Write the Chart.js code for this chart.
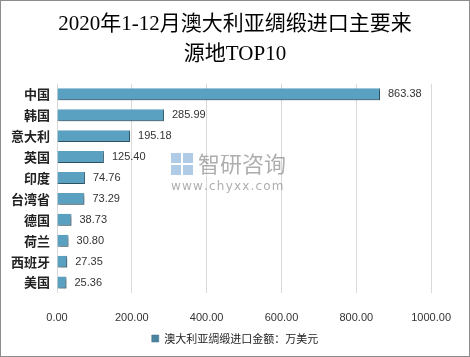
<!DOCTYPE html>
<html><head><meta charset="utf-8">
<script src="https://cdn.jsdelivr.net/npm/chart.js@4/dist/chart.umd.min.js"></script>
<style>
html,body{margin:0;padding:0;background:#fff;}
#wrap{position:relative;width:468px;height:355px;border:1px solid #8c8c8c;}
</style></head><body>
<div id="wrap"><canvas id="c" width="468" height="355"></canvas></div>
<script>
const categories = ["中国","韩国","意大利","英国","印度","台湾省","德国","荷兰","西班牙","美国"];
const values = [863.38,285.99,195.18,125.40,74.76,73.29,38.73,30.80,27.35,25.36];
const seriesName = "澳大利亚绸缎进口金额：万美元";
const titleLines = ["2020年1-12月澳大利亚绸缎进口主要来","源地TOP10"];

const labelPlugin = {
  id:'labels',
  afterDatasetsDraw(chart){
    const ctx = chart.ctx;
    const meta = chart.getDatasetMeta(0);
    ctx.save();
    ctx.font = '11px "Liberation Sans","Noto Sans CJK SC",sans-serif';
    ctx.fillStyle = '#333';
    ctx.textBaseline = 'middle';
    ctx.textAlign = 'left';
    meta.data.forEach((el,i)=>{
      ctx.fillText(values[i].toFixed(2), el.x + 8, el.y);
    });
    ctx.restore();
  }
};
const shadowPlugin = {
  id:'shadow',
  beforeDatasetDraw(chart){
    const ctx=chart.ctx; ctx.save();
    ctx.shadowColor='rgba(0,0,0,0.35)'; ctx.shadowOffsetX=1.5; ctx.shadowOffsetY=2; ctx.shadowBlur=3;
  },
  afterDatasetDraw(chart){ chart.ctx.restore(); }
};
const watermark = {
  id:'wm',
  beforeDatasetsDraw(chart){
    const ctx=chart.ctx; ctx.save();
    ctx.fillStyle='rgba(110,160,210,0.55)';
    ctx.fillRect(170,152,10,10); ctx.fillRect(182,152,10,10); ctx.fillRect(170,164,10,10);ctx.fillRect(182,164,10,10);
    ctx.fillStyle='rgba(120,120,120,0.6)';
    ctx.font='22px "Noto Sans CJK SC",sans-serif';
    ctx.textBaseline='middle'; ctx.textAlign='left';
    ctx.fillText('智研咨询',197,163);
    ctx.font='12px "DejaVu Sans",sans-serif';
    ctx.fillText('www.chyxx.com'.split('').join(String.fromCharCode(8202)),170,186);
    ctx.restore();
  }
};

new Chart(document.getElementById('c'),{
  type:'bar',
  data:{labels:categories,datasets:[{
    label:seriesName,
    data:values,
    backgroundColor:(c)=>{
      const el=c.element; const ch=c.chart;
      if(!el || !ch.chartArea || !Number.isFinite(el.y)) return '#5aa0c0';
      const g=ch.ctx.createLinearGradient(0,el.y-6,0,el.y+6);
      g.addColorStop(0,'#4f92b0'); g.addColorStop(0.35,'#62abcb'); g.addColorStop(1,'#4a84a0');
      return g;
    },
    borderColor:'#3f6f85',
    borderWidth:{top:0,left:0,right:1,bottom:1},
    categoryPercentage:0.6,
    barPercentage:0.95
  }]},
  options:{
    indexAxis:'y',
    responsive:false,
    animation:false,
    layout:{padding:{left:4,right:4,top:5,bottom:2}},
    plugins:{
      title:{display:true,text:titleLines,color:'#000',
        font:{family:'"Liberation Serif","Noto Sans CJK SC",serif',size:21,weight:'normal',lineHeight:1.4},
        padding:{top:4,bottom:15}},
      legend:{position:'bottom',labels:{boxWidth:7,boxHeight:7,color:'#222',padding:7,
        font:{family:'"Noto Sans CJK SC",sans-serif',size:11}}},
      tooltip:{enabled:false}
    },
    scales:{
      x:{min:0,max:1000,ticks:{stepSize:200,color:'#333',padding:18,
          font:{family:'"Liberation Sans",sans-serif',size:11},
          callback:(v)=>Number(v).toFixed(2)},
        afterFit:(s)=>{s.height=33;},
        grid:{color:'#d9d9d9',drawTicks:false},border:{display:false}},
      y:{ticks:{color:'#222',padding:7,font:{family:'"Noto Sans CJK SC",sans-serif',size:13,weight:'bold'}},
        afterFit:(s)=>{s.width=52;},
        grid:{display:false,drawTicks:false},border:{display:false}},
      yR:{type:'linear',position:'right',display:true,
        ticks:{display:false},grid:{display:false,drawTicks:false},border:{display:false},
        afterFit:(s)=>{s.width=32;}}
    }
  },
  plugins:[watermark,shadowPlugin,labelPlugin]
});
</script></body></html>
